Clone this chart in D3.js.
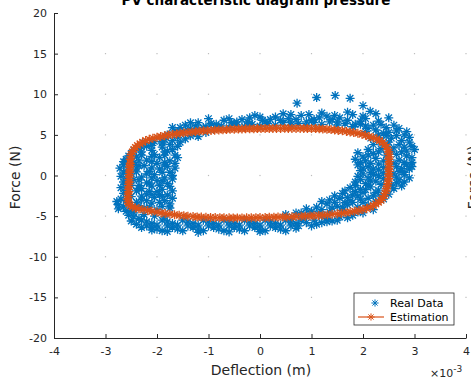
<!DOCTYPE html>
<html>
<head>
<meta charset="utf-8">
<script src="https://cdn.jsdelivr.net/npm/d3@7"></script>
<style>
  body { margin: 0; background: #fff; }
  svg { display: block; font-family: "DejaVu Sans", sans-serif; }
</style>
</head>
<body>
<svg id="chart" width="471" height="378"></svg>
<script>
// x values are in units of 1e-3 m (axis shows x10^-3)
const xTicks = [-4, -3, -2, -1, 0, 1, 2, 3, 4]
const yTicks = [-20, -15, -10, -5, 0, 5, 10, 15, 20]

// estimation loop, clockwise from the left side (two passes)
const estX = [-2.52, -2.5, -2.45, -2.38, -2.28, -2.15, -2.0, -1.85, -1.7, -1.55, -1.4, -1.25, -1.1, -0.95, -0.8, -0.65, -0.5, -0.35, -0.2, -0.05,
  0.1, 0.25, 0.4, 0.55, 0.7, 0.85, 1.0, 1.15, 1.3, 1.45, 1.6, 1.75, 1.9, 2.05, 2.2, 2.32, 2.42, 2.48, 2.5, 2.5,
  2.5, 2.5, 2.5, 2.5, 2.48, 2.46, 2.43, 2.38, 2.3, 2.2, 2.07, 1.92, 1.75, 1.58, 1.4, 1.22, 1.05, 0.88, 0.7, 0.52,
  0.35, 0.18, 0.0, -0.17, -0.35, -0.52, -0.7, -0.87, -1.05, -1.22, -1.4, -1.57, -1.75, -1.92, -2.1, -2.27, -2.42, -2.52, -2.56, -2.56,
  -2.55, -2.55, -2.54, -2.54, -2.53, -2.53, -2.52]
const estY = [2.0, 2.6, 3.2, 3.7, 4.1, 4.45, 4.7, 4.9, 5.05, 5.2, 5.3, 5.4, 5.5, 5.55, 5.6, 5.65, 5.7, 5.72, 5.75, 5.77,
  5.78, 5.8, 5.8, 5.8, 5.8, 5.8, 5.78, 5.75, 5.7, 5.6, 5.5, 5.35, 5.2, 4.95, 4.65, 4.3, 3.8, 3.2, 2.6, 2.0,
  1.4, 0.8, 0.2, -0.4, -1.0, -1.6, -2.2, -2.8, -3.3, -3.7, -4.05, -4.3, -4.5, -4.65, -4.78, -4.88, -4.95, -5.0, -5.05, -5.1,
  -5.12, -5.15, -5.18, -5.2, -5.22, -5.22, -5.2, -5.18, -5.15, -5.1, -5.0, -4.9, -4.75, -4.6, -4.4, -4.2, -4.0, -3.7, -3.2, -2.6,
  -2.0, -1.4, -0.8, -0.2, 0.4, 1.0, 1.5]
const est2X = [-2.51, -2.48, -2.42, -2.33, -2.22, -2.08, -1.93, -1.78, -1.62, -1.48, -1.32, -1.18, -1.02, -0.88, -0.72, -0.58, -0.42, -0.28, -0.12, 0.02,
  0.18, 0.32, 0.48, 0.62, 0.78, 0.92, 1.08, 1.22, 1.38, 1.52, 1.68, 1.82, 1.98, 2.12, 2.27, 2.38, 2.46, 2.5, 2.51, 2.51,
  2.51, 2.51, 2.5, 2.49, 2.47, 2.45, 2.41, 2.35, 2.25, 2.14, 2.0, 1.84, 1.67, 1.5, 1.31, 1.14, 0.97, 0.8, 0.62, 0.44,
  0.27, 0.1, -0.08, -0.26, -0.44, -0.6, -0.78, -0.96, -1.14, -1.3, -1.48, -1.66, -1.84, -2.0, -2.18, -2.35, -2.48, -2.55, -2.57, -2.56,
  -2.55, -2.55, -2.54, -2.54, -2.53, -2.52]
const est2Y = [2.3, 2.9, 3.45, 3.9, 4.3, 4.6, 4.8, 5.0, 5.12, 5.25, 5.35, 5.45, 5.52, 5.58, 5.62, 5.68, 5.71, 5.74, 5.76, 5.78,
  5.79, 5.8, 5.81, 5.8, 5.8, 5.79, 5.77, 5.72, 5.65, 5.55, 5.43, 5.28, 5.08, 4.8, 4.5, 4.05, 3.5, 2.9, 2.3, 1.7,
  1.1, 0.5, -0.1, -0.7, -1.3, -1.9, -2.5, -3.05, -3.5, -3.9, -4.18, -4.4, -4.58, -4.72, -4.83, -4.92, -4.98, -5.02, -5.08, -5.11,
  -5.14, -5.17, -5.19, -5.21, -5.22, -5.21, -5.19, -5.17, -5.12, -5.05, -4.95, -4.83, -4.68, -4.5, -4.3, -4.1, -3.85, -3.45, -2.9, -2.3,
  -1.7, -1.1, -0.5, 0.1, 0.7, 1.25]

// measured points, [deflection, force]
const realTop = [
  [-1.8, 5.0], [-1.65, 5.5], [-1.5, 5.3], [-1.35, 5.8], [-1.2, 5.6], [-1.05, 6.0], [-0.9, 5.7], [-0.75, 6.1], [-0.6, 5.9], [-0.45, 6.2],
  [-0.3, 6.0], [-0.15, 6.3], [0.0, 6.1], [0.15, 6.4], [0.3, 6.2], [0.45, 6.5], [0.6, 6.2], [0.75, 6.4], [0.9, 6.1], [1.05, 6.5],
  [1.2, 6.3], [1.35, 6.6], [1.5, 6.2], [1.65, 6.4], [1.8, 6.0], [1.95, 6.3], [2.1, 5.8],
  [-1.7, 5.9], [-1.45, 6.2], [-1.2, 6.5], [-0.95, 6.4], [-0.7, 6.8], [-0.45, 6.6], [-0.2, 7.1], [0.05, 6.8], [0.3, 7.2], [0.55, 7.0],
  [0.8, 7.4], [1.05, 6.9], [1.3, 7.3], [1.55, 7.1], [1.8, 7.5], [2.05, 7.0], [2.3, 6.7],
  [-1.55, 5.9], [-1.25, 6.1], [-0.85, 6.3], [-0.55, 6.5], [-0.25, 6.6], [0.1, 6.6], [0.4, 6.8], [0.7, 6.9], [1.0, 6.8], [1.4, 6.9],
  [1.7, 6.8], [1.95, 6.7], [2.2, 6.2],
  [-1.0, 7.0], [-0.1, 7.4], [0.45, 7.6], [1.2, 7.7], [1.7, 7.8], [2.25, 7.6], [2.5, 7.1],
  [-1.6, 5.3], [-1.4, 5.6], [-1.1, 5.9], [-0.8, 6.0], [-0.5, 6.4], [-0.2, 6.4], [0.2, 6.9], [0.6, 6.6], [0.9, 6.6], [1.15, 7.1],
  [1.5, 6.6], [1.85, 6.3], [2.05, 6.1], [2.35, 6.3], [-0.6, 7.0], [0.0, 7.2], [0.95, 7.5], [1.45, 7.4], [2.0, 7.3], [-1.35, 6.5],
  [-0.35, 6.9], [0.6, 7.5],
  [0.72, 8.9], [1.1, 9.6], [1.46, 9.85], [1.75, 9.5], [2.0, 8.6], [2.14, 7.9]
]
const realLeft = [
  [-2.25, 4.0], [-2.05, 4.2], [-1.85, 4.4], [-1.6, 4.7], [-1.35, 4.9], [-1.55, 4.1], [-1.75, 3.8], [-1.3, 5.2], [-2.3, 3.5], [-2.1, 4.0], [-1.9, 4.5],
  [-2.1, 3.7], [-1.9, 4.0], [-1.7, 4.3], [-1.45, 4.5], [-1.2, 4.8], [-1.05, 5.3],
  [-2.35, 3.4], [-2.1, 3.1], [-1.9, 3.5], [-1.7, 3.2], [-2.45, 3.1], [-2.2, 3.6], [-1.8, 3.0], [-1.6, 3.6],
  [-2.5, 2.7], [-2.3, 2.9], [-2.05, 2.6], [-1.85, 2.9], [-1.65, 2.5], [-2.55, 2.4], [-2.3, 2.5], [-2.1, 2.35], [-1.85, 2.5], [-1.6, 2.2],
  [-2.6, 2.0], [-2.4, 2.3], [-2.2, 1.9], [-1.95, 2.2], [-1.75, 1.8], [-2.65, 1.7], [-2.35, 1.8], [-2.1, 1.7], [-1.85, 1.6], [-1.65, 1.5],
  [-2.65, 1.3], [-2.45, 1.6], [-2.25, 1.2], [-2.0, 1.5], [-1.8, 1.1], [-2.55, 1.0], [-2.35, 1.2], [-2.1, 0.95], [-1.85, 1.3], [-1.65, 0.9],
  [-2.6, 0.6], [-2.4, 0.9], [-2.15, 0.5], [-1.95, 0.8], [-1.75, 0.4], [-2.65, 0.3], [-2.4, 0.45], [-2.2, 0.2], [-1.9, 0.4], [-1.7, 0.0],
  [-2.7, -0.1], [-2.5, 0.2], [-2.3, -0.2], [-2.05, 0.1], [-1.85, -0.3], [-2.6, -0.45], [-2.35, -0.55], [-2.1, -0.3], [-1.9, -0.65], [-1.7, -0.45],
  [-2.65, -0.8], [-2.45, -0.5], [-2.2, -0.9], [-2.0, -0.6], [-1.8, -1.0], [-2.6, -1.1], [-2.35, -1.25], [-2.15, -0.95], [-1.95, -1.2], [-1.75, -1.35],
  [-2.7, -1.5], [-2.5, -1.2], [-2.3, -1.6], [-2.1, -1.3], [-1.9, -1.7], [-2.6, -1.85], [-2.35, -1.6], [-2.15, -1.95], [-1.95, -2.35], [-1.7, -1.9],
  [-2.65, -2.2], [-2.4, -1.9], [-2.2, -2.3], [-2.0, -2.0], [-1.8, -2.4], [-2.55, -2.35], [-2.3, -2.55], [-2.1, -2.35], [-1.9, -2.6], [-1.7, -2.8],
  [-2.7, -2.9], [-2.5, -2.6], [-2.3, -3.0], [-2.05, -2.7], [-1.85, -3.1], [-2.6, -3.05], [-2.4, -3.3], [-2.2, -3.1], [-1.95, -3.3], [-1.75, -3.5],
  [-2.75, -3.6], [-2.55, -3.3], [-2.35, -3.7], [-2.1, -3.4], [-1.9, -3.8], [-2.65, -3.85], [-2.4, -4.0], [-2.15, -3.9], [-2.0, -4.2], [-1.75, -4.0],
  [-2.75, -4.1], [-2.5, -4.3], [-2.25, -4.0], [-2.78, -3.2], [-2.72, 0.9]
]
const realRight = [
  [2.05, 5.4], [2.3, 5.0], [2.15, 4.6], [2.35, 4.2], [2.2, 3.8], [2.45, 3.6], [2.1, 3.2], [2.35, 3.3],
  [2.25, 5.6], [2.45, 5.9], [2.6, 6.2], [2.4, 5.2], [2.65, 5.5], [2.8, 5.0], [2.55, 4.6], [2.75, 4.3], [2.9, 4.7], [2.7, 3.8],
  [2.95, 3.6], [3.0, 3.2], [2.85, 3.0], [2.6, 3.4],
  [2.5, 5.3], [2.7, 5.8], [2.85, 5.4], [2.65, 4.9], [2.9, 4.1], [2.5, 4.1], [2.8, 3.5], [2.55, 3.0], [2.3, 4.6], [2.45, 4.9],
  [1.9, 2.8], [2.1, 2.5], [2.3, 2.9], [2.65, 2.6], [2.85, 2.4], [2.0, 2.3], [2.2, 2.7], [2.45, 2.5], [2.75, 2.9], [2.95, 2.2],
  [1.85, 2.0], [2.05, 1.8], [2.25, 2.1], [2.7, 1.9], [2.95, 1.6], [1.95, 1.6], [2.15, 1.5], [2.4, 1.8], [2.8, 1.6], [2.6, 1.5],
  [1.9, 1.3], [2.1, 1.1], [2.3, 1.4], [2.65, 1.1], [2.85, 1.3], [2.0, 0.9], [2.2, 0.8], [2.4, 1.0], [2.75, 0.85], [2.95, 1.1],
  [1.95, 0.6], [2.15, 0.4], [2.3, 0.7], [2.7, 0.5], [2.9, 0.8], [2.0, 0.2], [2.2, 0.1], [2.4, 0.3], [2.8, 0.4], [2.6, 0.2],
  [1.9, -0.1], [2.1, -0.3], [2.3, 0.0], [2.65, -0.2], [2.8, 0.1], [1.95, -0.5], [2.15, -0.65], [2.4, -0.4], [2.7, -0.55], [2.9, -0.3],
  [1.85, -0.8], [2.05, -1.0], [2.25, -0.7], [2.65, -0.9], [2.75, -1.3], [1.85, -1.25], [2.1, -1.2], [2.35, -1.1], [2.55, -1.2], [2.8, -0.8],
  [1.75, -1.5], [1.95, -1.7], [2.15, -1.4], [2.3, -1.8], [2.6, -1.6], [1.65, -1.9], [1.85, -2.0], [2.05, -1.75], [2.25, -2.1], [2.45, -1.95],
  [1.6, -2.2], [1.8, -2.4], [2.0, -2.1], [2.2, -2.5], [2.5, -2.3], [1.45, -2.5], [1.7, -2.7], [1.9, -2.55], [2.1, -2.8], [2.35, -2.55],
  [1.35, -3.0], [1.55, -2.8], [1.75, -3.1], [1.95, -2.9], [2.25, -3.2], [2.4, -2.9], [1.2, -3.2], [1.45, -3.3], [1.65, -3.35]
]
const realBottom = [
  [2.1, -3.7], [1.9, -3.9], [1.7, -3.6], [1.5, -3.8], [1.3, -3.5], [1.1, -3.9], [0.9, -4.1], [1.6, -4.3], [1.35, -4.5], [1.15, -4.6],
  [0.95, -4.8], [2.2, -4.2], [2.0, -4.6], [1.8, -4.9], [1.55, -5.1], [1.3, -5.3], [1.05, -5.5], [0.85, -5.2], [0.7, -4.6], [0.5, -4.8],
  [1.0, -4.4], [1.2, -4.2], [1.4, -4.0], [1.6, -3.9], [1.8, -3.3], [2.0, -3.3], [1.2, -5.0], [1.4, -5.6], [1.7, -5.2], [1.9, -4.5],
  [0.8, -4.6], [0.6, -5.3], [1.2, -5.8], [1.0, -6.2],
  [0.9, -5.8], [1.1, -6.0], [1.3, -5.7], [1.5, -5.5], [0.75, -6.2],
  [-2.3, -5.5], [-2.1, -5.9], [-1.9, -5.5], [-1.7, -5.9], [-1.5, -5.5], [-1.3, -5.9], [-1.1, -5.5], [-0.9, -5.9], [-0.7, -5.5], [-0.5, -5.9],
  [-0.3, -5.5], [-0.1, -5.9], [0.1, -5.5], [0.3, -5.9], [0.5, -5.5], [0.7, -5.9],
  [-2.2, -5.7], [-2.0, -6.1], [-1.8, -5.7], [-1.6, -6.1], [-1.4, -5.7], [-1.2, -6.1], [-1.0, -5.7], [-0.8, -6.1], [-0.6, -5.7], [-0.4, -6.1],
  [-0.2, -5.7], [0.0, -6.1], [0.2, -5.7], [0.4, -6.1], [0.6, -5.7], [0.8, -5.5],
  [-2.2, -6.2], [-2.0, -6.6], [-1.8, -6.2], [-1.6, -6.6], [-1.4, -6.2], [-1.2, -6.6], [-1.0, -6.2], [-0.8, -6.6], [-0.6, -6.2], [-0.4, -6.6],
  [-0.2, -6.2], [0.0, -6.6], [0.2, -6.2], [0.4, -6.6], [0.6, -6.2],
  [-2.1, -6.4], [-1.9, -6.8], [-1.7, -6.4], [-1.5, -6.8], [-1.3, -6.4], [-1.1, -6.8], [-0.9, -6.4], [-0.7, -6.8], [-0.5, -6.4], [-0.3, -6.8],
  [-0.1, -6.4], [0.1, -6.8], [0.3, -6.4], [0.7, -6.5],
  [-1.8, -6.9], [-1.2, -7.0], [-0.6, -6.95], [0.0, -6.9], [0.5, -6.8], [-2.1, -6.7],
  [-2.45, -4.6], [-2.25, -4.8], [-2.05, -5.0], [-2.35, -5.3], [-2.55, -4.9], [-1.85, -5.1],
  [-2.5, -5.6], [-2.4, -6.0], [-2.3, -6.4], [-2.6, -4.4], [-2.45, -5.1]
]

const realData = realTop.concat(realLeft, realRight, realBottom)
const estData = estX.map((x, i) => [x, estY[i]])
const est2Data = est2X.map((x, i) => [x, est2Y[i]])

const blue = '#0072BD'
const orange = '#D95319'
const axisColor = '#262626'
const markR = 4.5

const plot = { left: 54, right: 466, top: 13, bottom: 338 }

const svg = d3.select('#chart')

const x = d3.scaleLinear().domain([-4, 4]).range([plot.left, plot.right])
const y = d3.scaleLinear().domain([-20, 20]).range([plot.bottom, plot.top])

// asterisk marker like matlab '*'
function star(r) {
  const d = r * 0.72
  return `M${-r},0H${r}M0,${-r}V${r}M${-d},${-d}L${d},${d}M${-d},${d}L${d},${-d}`
}

// grid shows up as dots at the tick crossings
const gridPts = []
xTicks.slice(1).forEach(gx => yTicks.slice(1, -1).forEach(gy => gridPts.push([gx, gy])))
svg.append('g').selectAll('rect').data(gridPts).join('rect')
  .attr('x', d => x(d[0]) - 0.6)
  .attr('y', d => y(d[1]) - 0.6)
  .attr('width', 1.2).attr('height', 1.2)
  .attr('fill', '#bdbdbd')

// real data
svg.append('g').selectAll('path').data(realData).join('path')
  .attr('transform', d => `translate(${x(d[0])},${y(d[1])})`)
  .attr('d', star(markR))
  .attr('fill', 'none')
  .attr('stroke', blue)
  .attr('stroke-width', 1.3)

// estimation: line + markers
const line = d3.line().x(d => x(d[0])).y(d => y(d[1]))
;[estData, est2Data].forEach(ser => {
  svg.append('path')
    .datum(ser.concat([ser[0]]))
    .attr('d', line)
    .attr('fill', 'none')
    .attr('stroke', orange)
    .attr('stroke-width', 1.3)
  svg.append('g').selectAll('path').data(ser).join('path')
    .attr('transform', d => `translate(${x(d[0])},${y(d[1])})`)
    .attr('d', star(markR))
    .attr('fill', 'none')
    .attr('stroke', orange)
    .attr('stroke-width', 1.3)
})

// axes
const xAxis = svg.append('g')
  .attr('transform', `translate(0,${plot.bottom})`)
  .call(d3.axisBottom(x).tickValues(xTicks).tickFormat(d => String(d))
    .tickSizeInner(-4).tickSizeOuter(0).tickPadding(9))
const yAxis = svg.append('g')
  .attr('transform', `translate(${plot.left},0)`)
  .call(d3.axisLeft(y).tickValues(yTicks).tickFormat(d => String(d))
    .tickSizeInner(-4).tickSizeOuter(0).tickPadding(7))

;[xAxis, yAxis].forEach(a => {
  a.select('.domain').attr('stroke', axisColor)
  a.selectAll('.tick line').attr('stroke', axisColor)
  a.selectAll('.tick text').attr('fill', axisColor)
    .style('font-family', '"DejaVu Sans", sans-serif').style('font-size', '11px')
})

// labels
svg.append('text')
  .attr('x', (plot.left + plot.right) / 2 + 1).attr('y', 375)
  .attr('text-anchor', 'middle')
  .attr('fill', axisColor)
  .style('font-size', '14px')
  .text('Deflection (m)')

svg.append('text')
  .attr('transform', `translate(20,${(plot.top + plot.bottom) / 2 + 2}) rotate(-90)`)
  .attr('text-anchor', 'middle')
  .attr('fill', axisColor)
  .style('font-size', '14px')
  .text('Force (N)')

// y label of the neighbouring subplot, cut off at the edge
svg.append('text')
  .attr('transform', `translate(478,${(plot.top + plot.bottom) / 2 + 2}) rotate(-90)`)
  .attr('text-anchor', 'middle')
  .attr('fill', axisColor)
  .style('font-size', '14px')
  .text('Force (N)')

svg.append('text')
  .attr('x', 256).attr('y', 5)
  .attr('text-anchor', 'middle')
  .attr('fill', '#000')
  .style('font-size', '13.5px')
  .style('font-weight', 'bold')
  .text('PV characteristic diagram pressure')

const expo = svg.append('text')
  .attr('x', 430).attr('y', 377)
  .attr('fill', axisColor)
  .style('font-size', '11px')
expo.append('tspan').text('\u00d710')
expo.append('tspan').attr('dy', -5).style('font-size', '9px').text('-3')

// legend
const lg = svg.append('g').attr('transform', 'translate(354,293)')
lg.append('rect')
  .attr('width', 100).attr('height', 32)
  .attr('fill', '#fff')
  .attr('stroke', axisColor)
  .attr('stroke-width', 0.8)
lg.append('path')
  .attr('transform', 'translate(21,10)')
  .attr('d', star(3.6))
  .attr('fill', 'none').attr('stroke', blue)
lg.append('line')
  .attr('x1', 4).attr('x2', 30).attr('y1', 24).attr('y2', 24)
  .attr('stroke', orange).attr('stroke-width', 1.2)
lg.append('path')
  .attr('transform', 'translate(17,24)')
  .attr('d', star(3.6))
  .attr('fill', 'none').attr('stroke', orange)
lg.selectAll('text.lab').data(['Real Data', 'Estimation']).join('text')
  .attr('class', 'lab')
  .attr('x', 36)
  .attr('y', (d, i) => 10 + i * 14)
  .attr('dy', '0.35em')
  .attr('fill', '#000')
  .style('font-size', '11px')
  .text(d => d)
</script>
</body>
</html>
